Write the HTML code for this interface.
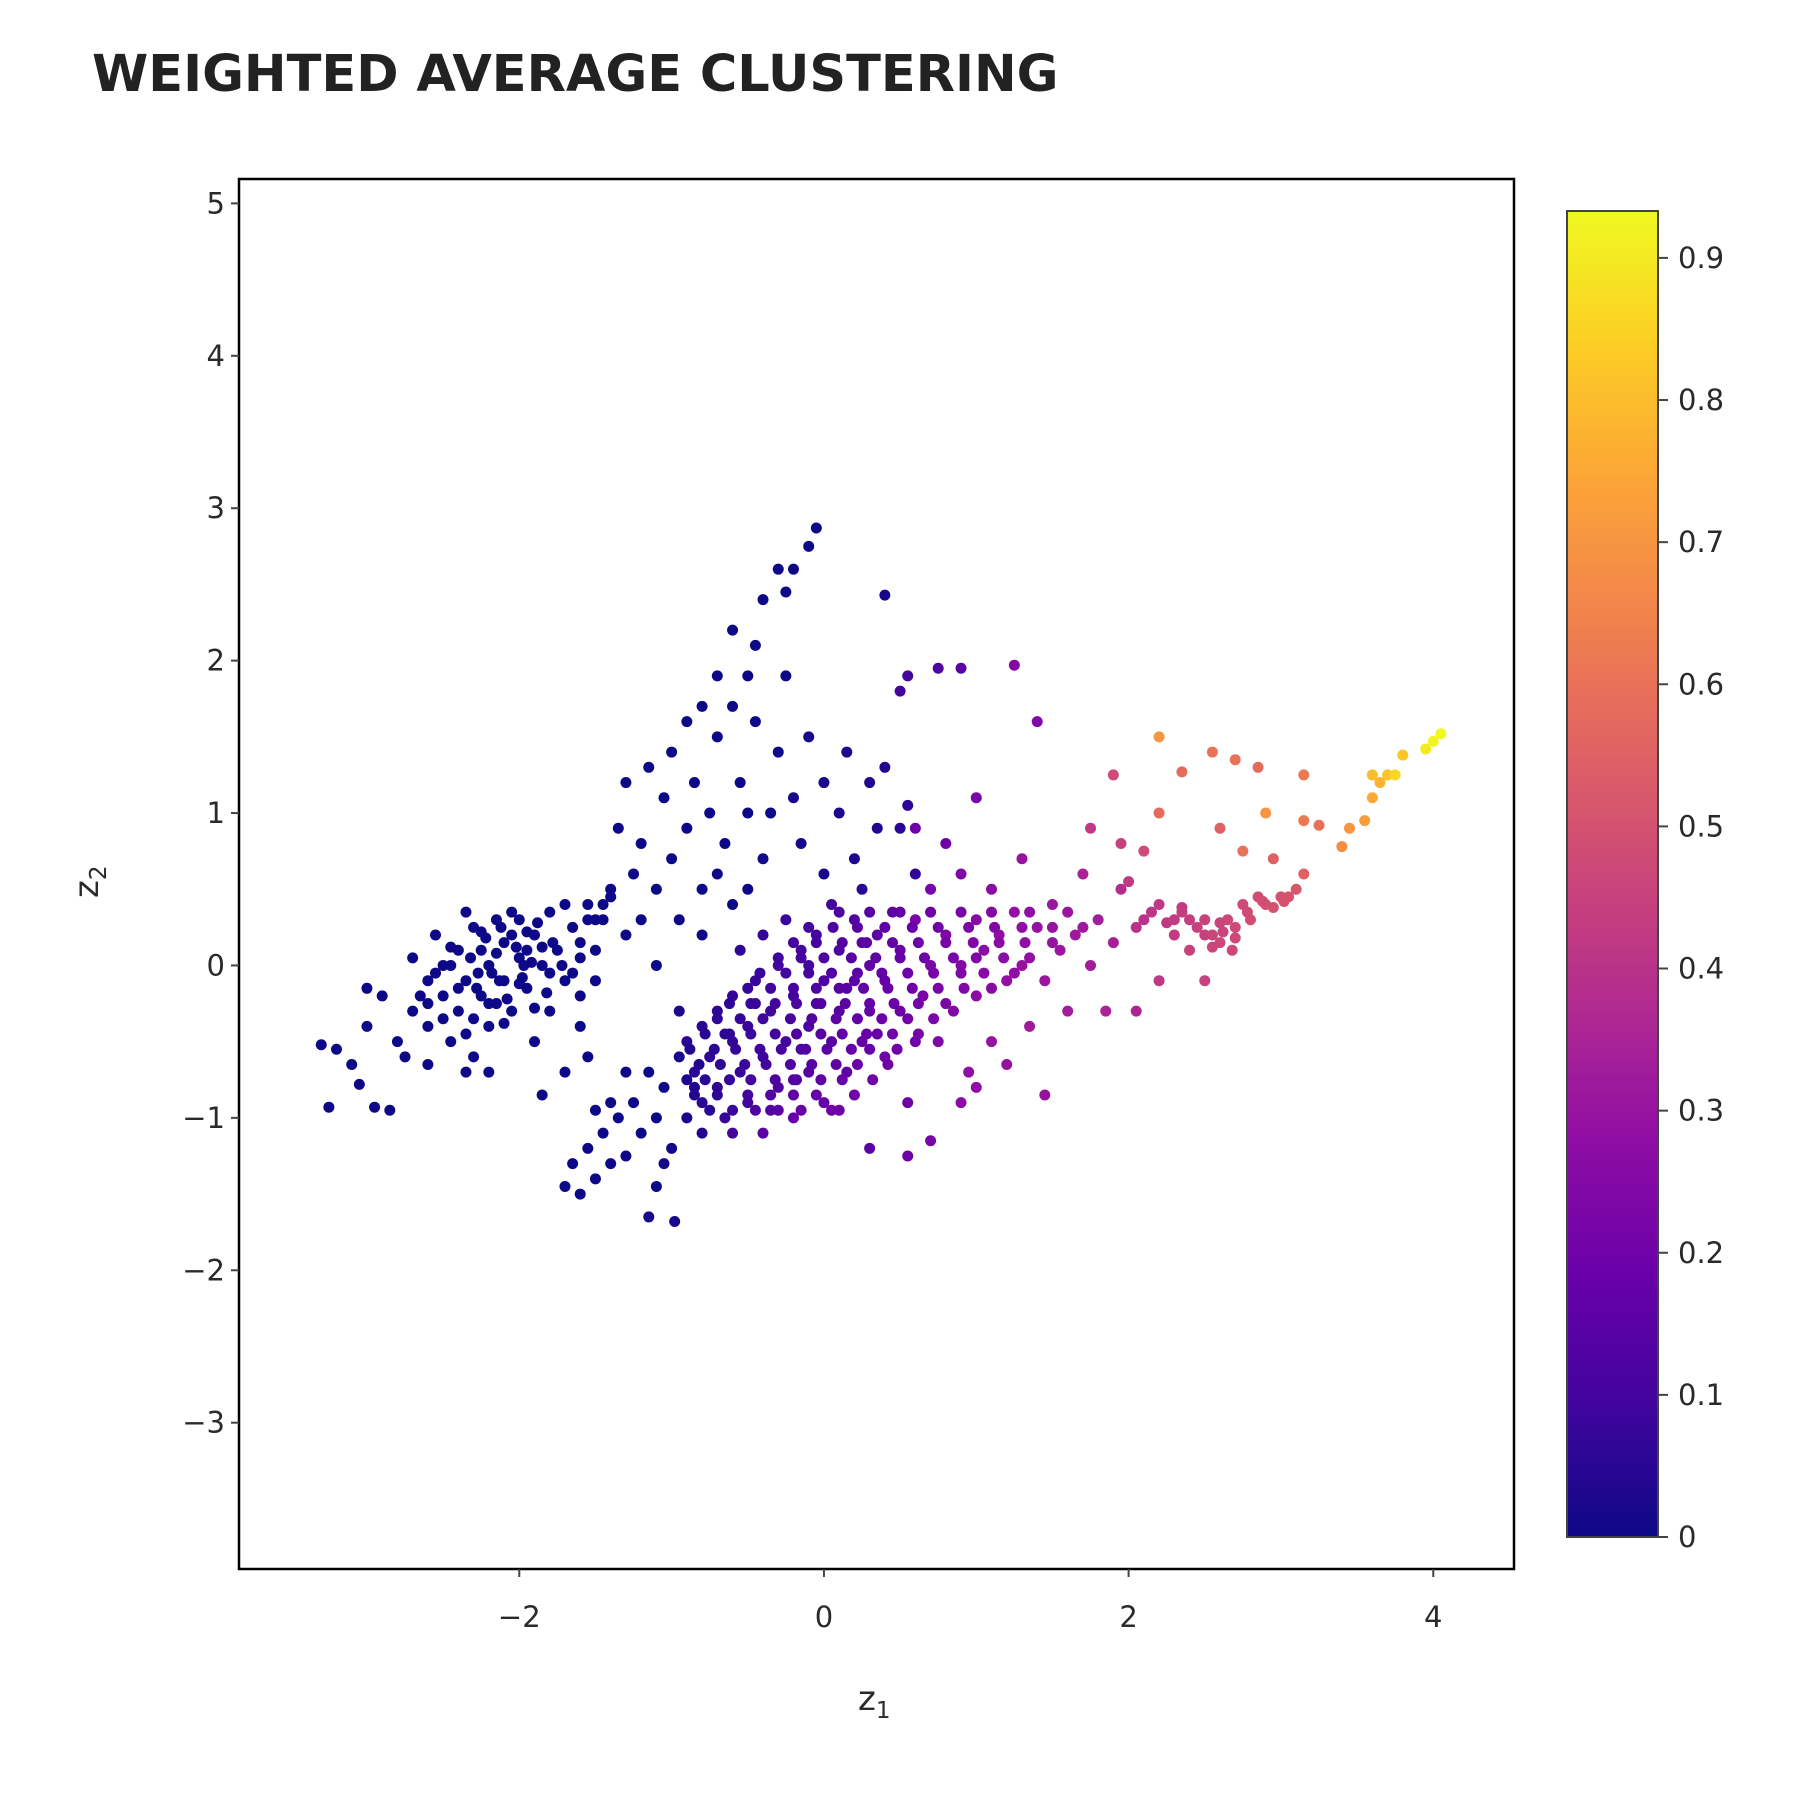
<!DOCTYPE html>
<html><head><meta charset="utf-8"><style>
body{margin:0;background:#fff;}
svg text{font-family:"DejaVu Sans","Liberation Sans",sans-serif;fill:#2a2a2a;}
</style></head><body>
<svg id="chart" width="1800" height="1800" viewBox="0 0 1800 1800" xmlns="http://www.w3.org/2000/svg">
<defs>
<linearGradient id="plasma" x1="0" y1="1" x2="0" y2="0">
<stop offset="0" stop-color="#0d0887"/><stop offset="0.1" stop-color="#41049d"/><stop offset="0.2" stop-color="#6a00a8"/><stop offset="0.3" stop-color="#8f0da4"/><stop offset="0.4" stop-color="#b12a90"/><stop offset="0.5" stop-color="#cc4778"/><stop offset="0.6" stop-color="#e16462"/><stop offset="0.7" stop-color="#f2844b"/><stop offset="0.8" stop-color="#fca636"/><stop offset="0.9" stop-color="#fcce25"/><stop offset="1" stop-color="#f0f921"/>
</linearGradient>
<clipPath id="clip"><rect x="239" y="179" width="1275" height="1390"/></clipPath>
</defs>
<text x="92" y="91" font-size="51" font-weight="bold" style="fill:#222">WEIGHTED AVERAGE CLUSTERING</text>
<g id="points" clip-path="url(#clip)"></g>
<rect x="239" y="179" width="1275" height="1390" fill="none" stroke="#000" stroke-width="2.5"/>
<g id="axes"></g>
<rect x="1567" y="211" width="91" height="1326" fill="url(#plasma)" stroke="#444" stroke-width="2"/>
<text x="858" y="1710" font-size="34">z<tspan font-size="23" dy="8">1</tspan></text>
<text transform="translate(98,898) rotate(-90)" font-size="34">z<tspan font-size="23" dy="8">2</tspan></text>
</svg>
<script>
const xTicks=[-2,0,2,4];
const yTicks=[-3,-2,-1,0,1,2,3,4,5];
const cTicks=[0,0.1,0.2,0.3,0.4,0.5,0.6,0.7,0.8,0.9];
const xs=[-3.3,-3.2,-3.1,-3.05,-3.25,-2.95,-2.85,-3.0,-2.9,-3.0,-2.8,-2.7,-2.7,-2.6,-2.6,-2.55,-2.5,-2.5,-2.45,-2.4,-2.4,-2.35,-2.3,-2.3,-2.25,-2.2,-2.2,-2.15,-2.1,-2.1,-2.05,-2.0,-2.0,-1.95,-1.9,-1.9,-1.85,-1.8,-1.8,-1.75,-1.7,-1.7,-1.65,-1.6,-1.6,-1.55,-1.5,-1.5,-2.6,-2.35,-2.2,-2.75,-2.05,-2.25,-2.45,-2.15,-1.95,-2.35,-1.85,-1.7,-1.55,-1.6,
-1.45,-1.4,-1.35,-1.3,-1.3,-1.25,-1.2,-1.2,-1.15,-1.1,-1.05,-1.0,-1.0,-0.95,-0.9,-0.9,-0.85,-0.8,-0.8,-0.75,-0.7,-0.7,-0.65,-0.6,-0.6,-0.55,-0.5,-0.5,-0.45,-0.4,-0.35,-0.3,-0.3,-0.25,-0.2,-0.1,-0.05,0.4,-0.2,-0.1,0.0,0.0,0.1,0.15,0.2,0.3,0.35,0.4,0.5,0.55,0.6,-0.15,-0.4,-0.6,-0.8,-1.1,-0.5,-0.7,-0.25,-0.45,0.25,
-1.7,-1.65,-1.6,-1.55,-1.5,-1.45,-1.4,-1.35,-1.3,-1.25,-1.2,-1.15,-1.1,-1.1,-1.05,-1.0,-0.95,-0.9,-1.15,-0.98,-1.3,-1.4,-1.5,-0.85,-1.05,
-0.9,-0.85,-0.8,-0.8,-0.75,-0.7,-0.7,-0.65,-0.6,-0.6,-0.55,-0.5,-0.5,-0.45,-0.4,-0.4,-0.35,-0.3,-0.3,-0.25,-0.2,-0.2,-0.15,-0.1,-0.1,-0.05,0.0,0.0,0.05,0.1,0.1,0.15,0.2,0.2,0.25,0.3,0.3,0.35,0.4,0.4,0.45,0.5,0.5,0.55,-0.6,-0.8,-0.55,-0.25,0.05,-0.45,-0.15,0.15,-0.65,-0.35,0.25,-0.05,0.35,-0.95,-0.1,-0.4,0.6,0.1,-0.2,
0.6,0.65,0.7,0.7,0.75,0.8,0.85,0.9,0.9,0.95,1.0,1.0,1.05,1.1,1.1,1.15,1.2,1.25,1.3,1.3,1.35,1.4,1.45,1.5,1.55,1.6,1.65,1.7,1.75,1.8,1.85,1.9,1.95,2.05,0.8,0.55,0.75,0.9,1.25,1.4,1.0,0.5,1.2,1.45,0.9,0.55,0.3,0.7,1.0,0.6,
2.1,2.2,2.3,2.35,2.4,2.5,2.55,2.6,2.65,2.7,2.75,2.8,2.85,2.9,3.0,3.05,3.1,3.15,2.5,2.2,2.0,1.95,2.1,2.2,2.2,2.35,2.55,2.7,2.85,2.6,2.9,3.15,3.15,2.95,3.4,3.45,3.55,3.6,3.65,3.7,3.75,3.8,3.6,3.95,4.0,4.05,1.9,1.75,3.25,2.75];
const ys=[-0.52,-0.55,-0.65,-0.78,-0.93,-0.93,-0.95,-0.4,-0.2,-0.15,-0.5,-0.3,0.05,-0.1,-0.4,0.2,-0.2,0.0,-0.5,-0.3,0.1,-0.1,0.25,-0.6,-0.2,0.0,-0.4,0.3,-0.1,0.15,-0.3,0.05,0.3,-0.15,0.2,-0.5,0.0,0.35,-0.3,0.1,-0.1,0.4,0.25,-0.2,0.05,0.3,0.1,-0.1,-0.65,-0.7,-0.7,-0.6,0.2,0.1,0.0,-0.25,0.1,0.35,-0.85,-0.7,-0.6,-0.4,
0.3,0.5,0.9,1.2,0.2,0.6,0.8,0.3,1.3,0.5,1.1,0.7,1.4,0.3,0.9,1.6,1.2,1.7,0.5,1.0,1.9,1.5,0.8,1.7,2.2,1.2,1.9,0.5,1.6,2.4,1.0,2.6,1.4,2.45,2.6,2.75,2.87,2.43,1.1,1.5,1.2,0.6,1.0,1.4,0.7,1.2,0.9,1.3,0.9,1.05,0.6,0.8,0.7,0.4,0.2,0.0,1.0,0.6,1.9,2.1,0.5,
-1.45,-1.3,-1.5,-1.2,-1.4,-1.1,-1.3,-1.0,-1.25,-0.9,-1.1,-0.7,-1.0,-1.45,-0.8,-1.2,-0.6,-1.0,-1.65,-1.68,-0.7,-0.9,-0.95,-0.8,-1.3,
-0.5,-0.7,-0.4,-0.9,-0.6,-0.3,-0.8,-1.0,-0.5,-0.2,-0.7,-0.4,-0.9,-0.1,-0.6,-1.1,-0.3,0.0,-0.8,-0.5,-0.2,-1.0,0.1,-0.4,-0.7,0.2,-0.1,-0.9,-0.5,0.1,-0.3,-0.7,0.3,-0.1,-0.5,0.0,-0.3,0.2,-0.6,-0.1,0.35,-0.3,0.1,-0.9,-1.1,-1.1,0.1,0.3,0.4,-0.25,-0.55,-0.15,-0.45,-0.95,0.15,-0.25,-0.45,-0.3,0.0,0.2,-0.5,-0.95,-0.75,
0.3,-0.2,0.5,0.0,-0.5,0.2,-0.3,0.6,0.0,-0.7,0.3,-0.2,0.1,0.5,-0.5,0.2,-0.1,0.35,0.0,0.7,-0.4,0.25,-0.1,0.4,0.1,-0.3,0.2,0.6,0.0,0.3,-0.3,0.15,0.5,-0.3,0.8,1.9,1.95,1.95,1.97,1.6,1.1,1.8,-0.65,-0.85,-0.9,-1.25,-1.2,-1.15,-0.8,0.9,
0.3,0.4,0.2,0.35,0.1,0.3,0.2,0.15,0.3,0.25,0.4,0.3,0.45,0.4,0.45,0.45,0.5,0.6,-0.1,-0.1,0.55,0.8,0.75,1.0,1.5,1.27,1.4,1.35,1.3,0.9,1.0,1.25,0.95,0.7,0.78,0.9,0.95,1.1,1.2,1.25,1.25,1.38,1.25,1.42,1.47,1.52,1.25,0.9,0.92,0.75];
const cs=[0,0,0,0,0,0,0,0,0,0,0,0,0,0,0,0,0,0,0,0,0,0,0,0,0,0,0,0,0,0,0,0,0,0,0,0,0,0,0,0,0,0,0,0,0,0,0,0,0,0,0,0,0,0,0,0,0,0,0,0,0,0,
0,0,0,0,0,0,0,0,0,0,0,0,0,0,0,0,0,0,0,0,0,0,0,0,0,0,0,0,0,0,0,0,0,0,0,0,0,0.02,0.02,0.02,0.02,0.02,0.03,0.03,0.03,0.04,0.04,0.04,0.05,0.05,0.06,0.02,0.01,0,0,0,0,0,0,0,0.05,
0,0,0,0,0,0,0,0,0,0,0,0,0,0,0,0.01,0.02,0.02,0.02,0.02,0,0,0,0.03,0.01,
0.05,0.05,0.05,0.05,0.06,0.06,0.06,0.07,0.07,0.07,0.08,0.08,0.1,0.08,0.09,0.15,0.09,0.1,0.12,0.1,0.1,0.18,0.1,0.12,0.14,0.1,0.12,0.18,0.14,0.12,0.14,0.16,0.13,0.15,0.17,0.16,0.17,0.15,0.2,0.18,0.16,0.2,0.18,0.2,0.1,0.04,0.06,0.08,0.1,0.08,0.12,0.14,0.06,0.14,0.15,0.12,0.18,0.03,0.1,0.07,0.2,0.2,0.14,
0.22,0.22,0.22,0.23,0.24,0.24,0.25,0.24,0.25,0.28,0.26,0.27,0.27,0.27,0.3,0.28,0.29,0.29,0.3,0.3,0.32,0.3,0.31,0.31,0.31,0.33,0.32,0.35,0.33,0.33,0.35,0.34,0.38,0.36,0.2,0.1,0.12,0.15,0.25,0.25,0.22,0.1,0.3,0.3,0.27,0.2,0.15,0.22,0.28,0.2,
0.4,0.42,0.43,0.44,0.45,0.45,0.46,0.47,0.47,0.48,0.48,0.49,0.49,0.5,0.5,0.51,0.52,0.55,0.45,0.42,0.42,0.45,0.48,0.58,0.7,0.58,0.6,0.6,0.58,0.55,0.7,0.62,0.62,0.55,0.68,0.7,0.72,0.75,0.78,0.82,0.86,0.82,0.8,0.9,0.92,0.93,0.48,0.42,0.6,0.6];
// dense-region points
const xs2=[-2.32,-2.28,-2.22,-2.18,-2.12,-2.08,-2.02,-1.98,-1.92,-1.88,-1.82,-1.78,-1.72,-2.3,-2.25,-2.2,-2.15,-2.1,-2.05,-2.0,-1.95,-1.9,-1.85,-1.8,-2.4,-2.45,-2.55,-2.5,-2.65,-2.6,-1.65,-1.6,-1.55,-1.5,-1.45,-1.4,-2.35,-2.27,-2.13,-1.97,
-0.75,-0.6,-0.45,-0.3,-0.15,0.05,
-0.85,-0.7,-0.5,-0.35,-0.2,-0.05,0.2,
-0.9,-0.78,-0.62,-0.48,-0.32,-0.18,-0.02,0.12,0.32,
-0.82,-0.68,-0.52,-0.38,-0.22,-0.08,0.08,0.22,0.42,
-0.88,-0.72,-0.58,-0.42,-0.28,-0.12,0.02,0.18,0.3,0.48,
-0.78,-0.62,-0.48,-0.32,-0.18,-0.02,0.12,0.28,0.45,0.62,
-0.7,-0.55,-0.4,-0.22,-0.08,0.08,0.22,0.38,0.55,0.72,
-0.62,-0.48,-0.32,-0.18,-0.02,0.14,0.3,0.46,0.62,0.8,
-0.5,-0.35,-0.2,-0.05,0.1,0.26,0.42,0.58,0.75,0.92,1.1,
-0.42,-0.25,-0.1,0.05,0.22,0.38,0.55,0.72,0.9,1.05,1.25,
-0.3,-0.15,0.0,0.18,0.34,0.5,0.66,0.85,1.0,1.18,1.35,
-0.2,-0.05,0.12,0.28,0.45,0.62,0.8,0.98,1.15,1.32,1.5,
-0.1,0.06,0.22,0.4,0.58,0.75,0.95,1.12,1.3,1.5,1.7,
0.1,0.3,0.5,0.7,0.9,1.1,1.35,1.6,
2.25,2.35,2.45,2.55,2.62,2.7,2.78,2.88,2.95,3.02,2.4,2.5,2.6,2.68,2.3,2.15,2.05];
const ys2=[0.05,-0.15,0.18,-0.05,0.25,-0.22,0.12,-0.08,0.02,0.28,-0.18,0.15,0.0,-0.35,0.22,-0.25,0.08,-0.38,0.35,-0.12,0.22,-0.28,0.12,-0.05,-0.15,0.12,-0.05,-0.35,-0.2,-0.25,-0.05,0.15,0.4,0.3,0.4,0.45,-0.45,-0.05,-0.1,0.0,
-0.95,-0.95,-0.95,-0.95,-0.95,-0.95,
-0.85,-0.85,-0.85,-0.85,-0.85,-0.85,-0.85,
-0.75,-0.75,-0.75,-0.75,-0.75,-0.75,-0.75,-0.75,-0.75,
-0.65,-0.65,-0.65,-0.65,-0.65,-0.65,-0.65,-0.65,-0.65,
-0.55,-0.55,-0.55,-0.55,-0.55,-0.55,-0.55,-0.55,-0.55,-0.55,
-0.45,-0.45,-0.45,-0.45,-0.45,-0.45,-0.45,-0.45,-0.45,-0.45,
-0.35,-0.35,-0.35,-0.35,-0.35,-0.35,-0.35,-0.35,-0.35,-0.35,
-0.25,-0.25,-0.25,-0.25,-0.25,-0.25,-0.25,-0.25,-0.25,-0.25,
-0.15,-0.15,-0.15,-0.15,-0.15,-0.15,-0.15,-0.15,-0.15,-0.15,-0.15,
-0.05,-0.05,-0.05,-0.05,-0.05,-0.05,-0.05,-0.05,-0.05,-0.05,-0.05,
0.05,0.05,0.05,0.05,0.05,0.05,0.05,0.05,0.05,0.05,0.05,
0.15,0.15,0.15,0.15,0.15,0.15,0.15,0.15,0.15,0.15,0.15,
0.25,0.25,0.25,0.25,0.25,0.25,0.25,0.25,0.25,0.25,0.25,
0.35,0.35,0.35,0.35,0.35,0.35,0.35,0.35,
0.28,0.38,0.25,0.12,0.22,0.18,0.35,0.42,0.38,0.42,0.3,0.2,0.28,0.1,0.3,0.35,0.25];
const cs2=[0,0,0,0,0,0,0,0,0,0,0,0,0,0,0,0,0,0,0,0,0,0,0,0,0,0,0,0,0,0,0,0,0,0,0,0,0,0,0,0,
0.05,0.08,0.12,0.15,0.18,0.2,
0.04,0.06,0.1,0.13,0.16,0.18,0.2,
0.03,0.05,0.07,0.1,0.12,0.14,0.16,0.18,0.2,
0.04,0.06,0.08,0.1,0.12,0.14,0.16,0.18,0.2,
0.04,0.05,0.07,0.09,0.11,0.13,0.15,0.17,0.18,0.2,
0.05,0.06,0.08,0.1,0.12,0.14,0.16,0.18,0.2,0.22,
0.06,0.07,0.09,0.11,0.13,0.15,0.17,0.19,0.21,0.23,
0.06,0.08,0.1,0.12,0.13,0.15,0.17,0.19,0.21,0.23,
0.07,0.09,0.11,0.12,0.14,0.16,0.18,0.2,0.22,0.24,0.26,
0.08,0.1,0.11,0.13,0.15,0.17,0.2,0.22,0.24,0.26,0.28,
0.09,0.1,0.12,0.14,0.16,0.18,0.2,0.22,0.24,0.27,0.29,
0.1,0.11,0.13,0.15,0.17,0.19,0.22,0.24,0.26,0.28,0.3,
0.1,0.12,0.14,0.16,0.18,0.2,0.23,0.25,0.28,0.3,0.32,
0.12,0.14,0.17,0.2,0.22,0.25,0.28,0.31,
0.42,0.43,0.45,0.46,0.46,0.47,0.48,0.49,0.5,0.5,0.44,0.45,0.46,0.47,0.43,0.41,0.4];
const L=239,R=1514,T=179,B=1569,X0=-3.84,X1=4.53,Y0=-3.96,Y1=5.16,CB_T=211,CB_B=1537,CMAX=0.933;
const sx=v=>L+(v-X0)/(X1-X0)*(R-L);
const sy=v=>B-(v-Y0)/(Y1-Y0)*(B-T);
const sc=v=>CB_B-v/CMAX*(CB_B-CB_T);
const stops=["#0d0887","#41049d","#6a00a8","#8f0da4","#b12a90","#cc4778","#e16462","#f2844b","#fca636","#fcce25","#f0f921"];
function hex(h){return [1,3,5].map(i=>parseInt(h.substr(i,2),16));}
function color(v){let t=Math.max(0,Math.min(1,v/CMAX))*10;let i=Math.min(9,Math.floor(t)),f=t-i;const a=hex(stops[i]),b=hex(stops[i+1]);return "rgb("+a.map((c,k)=>Math.round(c+(b[k]-c)*f)).join(",")+")";}
const NS="http://www.w3.org/2000/svg";
const pg=document.getElementById("points");
const AX=xs.concat(xs2),AY=ys.concat(ys2),AC=cs.concat(cs2);
for(let i=0;i<AX.length;i++){
 const c=document.createElementNS(NS,"circle");
 
 
 c.setAttribute("cx",sx(AX[i]));c.setAttribute("cy",sy(AY[i]));c.setAttribute("r",5.5);c.setAttribute("fill",color(AC[i]));
 pg.appendChild(c);
}
const ax=document.getElementById("axes");
function mk(tag,attrs,txt){const e=document.createElementNS(NS,tag);for(const k in attrs)e.setAttribute(k,attrs[k]);if(txt!==undefined)e.textContent=txt;ax.appendChild(e);return e;}
function lab(v){return (v<0?"\u2212":"")+Math.abs(v);}
xTicks.forEach(v=>{const x=sx(v);
 const t=mk("line",{x1:x,x2:x,y1:B,y2:B+8,stroke:"#444","stroke-width":2});
 
 
 const l=mk("text",{x:x,y:B+58,"font-size":29,"text-anchor":"middle"},lab(v));
 
 
});
yTicks.forEach(v=>{const y=sy(v);
 const t=mk("line",{x1:L-8,x2:L,y1:y,y2:y,stroke:"#444","stroke-width":2});
 
 
 const l=mk("text",{x:L-14,y:y+10,"font-size":29,"text-anchor":"end"},lab(v));
 
 
});
cTicks.forEach(v=>{const y=sc(v);
 const t=mk("line",{x1:1658,x2:1668,y1:y,y2:y,stroke:"#444","stroke-width":2});
 
 
 const l=mk("text",{x:1678,y:y+10,"font-size":29},String(v));
 
 
});
</script>
</body></html>
